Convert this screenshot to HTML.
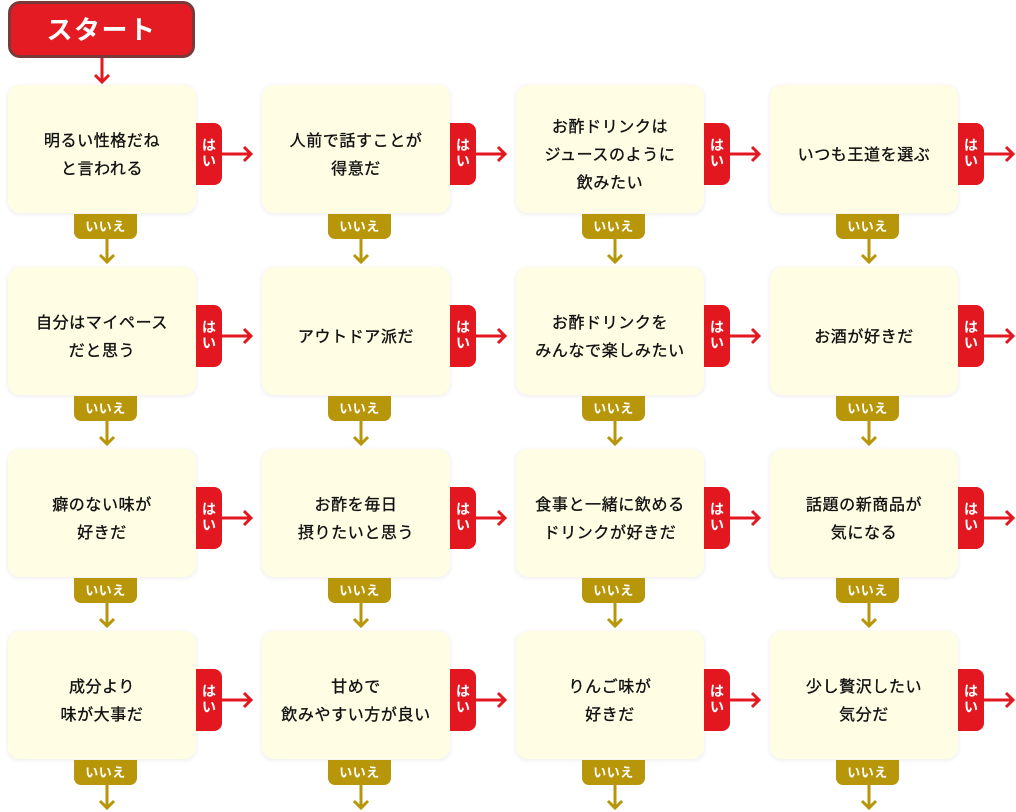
<!DOCTYPE html>
<html><head><meta charset="utf-8">
<style>
html,body{margin:0;padding:0;background:#fff;}
body{width:1016px;height:812px;position:relative;overflow:hidden;font-family:"Liberation Sans","Noto Sans CJK JP",sans-serif;}
.start{position:absolute;left:8px;top:1px;width:181px;height:51px;border:3px solid #7b3a3a;background:#e41b22;border-radius:12px;color:#fff;font-weight:bold;font-size:26px;letter-spacing:1.5px;text-align:center;line-height:53px;}
.box{position:absolute;width:188px;height:128px;background:#fffde3;border-radius:12px;box-shadow:0 1px 4px 1px rgba(0,0,0,0.06);display:flex;align-items:center;justify-content:center;text-align:center;font-size:16px;letter-spacing:0.6px;line-height:28px;color:#111;padding-top:14px;box-sizing:border-box;-webkit-text-stroke:0.35px #111;}
.hai{position:absolute;width:26px;height:62px;background:#e3171f;border-radius:0 8px 8px 0;color:#fff;font-weight:bold;font-size:14px;line-height:16px;text-align:center;display:flex;flex-direction:column;justify-content:center;box-sizing:border-box;padding-bottom:2px;}
.iie{position:absolute;width:63px;height:25px;background:#b8960a;border-radius:0 0 7px 7px;color:#fff;font-weight:bold;font-size:13px;letter-spacing:0.5px;line-height:26px;text-align:center;}
svg{position:absolute;left:0;top:0;}
</style></head><body>
<div class="start">スタート</div>

<!-- row 1 -->
<div class="box" style="left:8px;top:85px;">明るい性格だね<br>と言われる</div>
<div class="box" style="left:262px;top:85px;">人前で話すことが<br>得意だ</div>
<div class="box" style="left:516px;top:85px;">お酢ドリンクは<br>ジュースのように<br>飲みたい</div>
<div class="box" style="left:770px;top:85px;">いつも王道を選ぶ</div>
<!-- row 2 -->
<div class="box" style="left:8px;top:267px;">自分はマイペース<br>だと思う</div>
<div class="box" style="left:262px;top:267px;">アウトドア派だ</div>
<div class="box" style="left:516px;top:267px;">お酢ドリンクを<br>みんなで楽しみたい</div>
<div class="box" style="left:770px;top:267px;">お酒が好きだ</div>
<!-- row 3 -->
<div class="box" style="left:8px;top:449px;">癖のない味が<br>好きだ</div>
<div class="box" style="left:262px;top:449px;">お酢を毎日<br>摂りたいと思う</div>
<div class="box" style="left:516px;top:449px;">食事と一緒に飲める<br>ドリンクが好きだ</div>
<div class="box" style="left:770px;top:449px;">話題の新商品が<br>気になる</div>
<!-- row 4 -->
<div class="box" style="left:8px;top:631px;">成分より<br>味が大事だ</div>
<div class="box" style="left:262px;top:631px;">甘めで<br>飲みやすい方が良い</div>
<div class="box" style="left:516px;top:631px;">りんご味が<br>好きだ</div>
<div class="box" style="left:770px;top:631px;">少し贅沢したい<br>気分だ</div>

<!-- hai tabs -->
<div class="hai" style="left:196px;top:123px;"><span>は</span><span>い</span></div>
<div class="hai" style="left:450px;top:123px;"><span>は</span><span>い</span></div>
<div class="hai" style="left:704px;top:123px;"><span>は</span><span>い</span></div>
<div class="hai" style="left:958px;top:123px;"><span>は</span><span>い</span></div>
<div class="hai" style="left:196px;top:305px;"><span>は</span><span>い</span></div>
<div class="hai" style="left:450px;top:305px;"><span>は</span><span>い</span></div>
<div class="hai" style="left:704px;top:305px;"><span>は</span><span>い</span></div>
<div class="hai" style="left:958px;top:305px;"><span>は</span><span>い</span></div>
<div class="hai" style="left:196px;top:487px;"><span>は</span><span>い</span></div>
<div class="hai" style="left:450px;top:487px;"><span>は</span><span>い</span></div>
<div class="hai" style="left:704px;top:487px;"><span>は</span><span>い</span></div>
<div class="hai" style="left:958px;top:487px;"><span>は</span><span>い</span></div>
<div class="hai" style="left:196px;top:669px;"><span>は</span><span>い</span></div>
<div class="hai" style="left:450px;top:669px;"><span>は</span><span>い</span></div>
<div class="hai" style="left:704px;top:669px;"><span>は</span><span>い</span></div>
<div class="hai" style="left:958px;top:669px;"><span>は</span><span>い</span></div>

<!-- iie tabs -->
<div class="iie" style="left:74px;top:214px;">いいえ</div>
<div class="iie" style="left:328px;top:214px;">いいえ</div>
<div class="iie" style="left:582px;top:214px;">いいえ</div>
<div class="iie" style="left:836px;top:214px;">いいえ</div>
<div class="iie" style="left:74px;top:396px;">いいえ</div>
<div class="iie" style="left:328px;top:396px;">いいえ</div>
<div class="iie" style="left:582px;top:396px;">いいえ</div>
<div class="iie" style="left:836px;top:396px;">いいえ</div>
<div class="iie" style="left:74px;top:578px;">いいえ</div>
<div class="iie" style="left:328px;top:578px;">いいえ</div>
<div class="iie" style="left:582px;top:578px;">いいえ</div>
<div class="iie" style="left:836px;top:578px;">いいえ</div>
<div class="iie" style="left:74px;top:760px;">いいえ</div>
<div class="iie" style="left:328px;top:760px;">いいえ</div>
<div class="iie" style="left:582px;top:760px;">いいえ</div>
<div class="iie" style="left:836px;top:760px;">いいえ</div>

<svg width="1016" height="812" viewBox="0 0 1016 812">
  <defs>
    <g id="ra"><path d="M0 0 H29 M22 -7 L29 0 L22 7" fill="none" stroke="#e3171f" stroke-width="3" stroke-linecap="butt"/></g>
    <g id="da"><path d="M0 0 V23 M-7 16 L0 23 L7 16" fill="none" stroke="#b8960a" stroke-width="3"/></g>
  </defs>
  <!-- start arrow -->
  <path d="M102 58 V82 M95 75 L102 82 L109 75" fill="none" stroke="#e3171f" stroke-width="3"/>
  <!-- right arrows -->
  <use href="#ra" x="222" y="154"/><use href="#ra" x="476" y="154"/><use href="#ra" x="730" y="154"/><use href="#ra" x="984" y="154"/>
  <use href="#ra" x="222" y="336"/><use href="#ra" x="476" y="336"/><use href="#ra" x="730" y="336"/><use href="#ra" x="984" y="336"/>
  <use href="#ra" x="222" y="518"/><use href="#ra" x="476" y="518"/><use href="#ra" x="730" y="518"/><use href="#ra" x="984" y="518"/>
  <use href="#ra" x="222" y="700"/><use href="#ra" x="476" y="700"/><use href="#ra" x="730" y="700"/><use href="#ra" x="984" y="700"/>
  <!-- down arrows -->
  <use href="#da" x="107" y="239"/><use href="#da" x="361" y="239"/><use href="#da" x="615" y="239"/><use href="#da" x="869" y="239"/>
  <use href="#da" x="107" y="421"/><use href="#da" x="361" y="421"/><use href="#da" x="615" y="421"/><use href="#da" x="869" y="421"/>
  <use href="#da" x="107" y="603"/><use href="#da" x="361" y="603"/><use href="#da" x="615" y="603"/><use href="#da" x="869" y="603"/>
  <use href="#da" x="107" y="785"/><use href="#da" x="361" y="785"/><use href="#da" x="615" y="785"/><use href="#da" x="869" y="785"/>
</svg>
</body></html>
